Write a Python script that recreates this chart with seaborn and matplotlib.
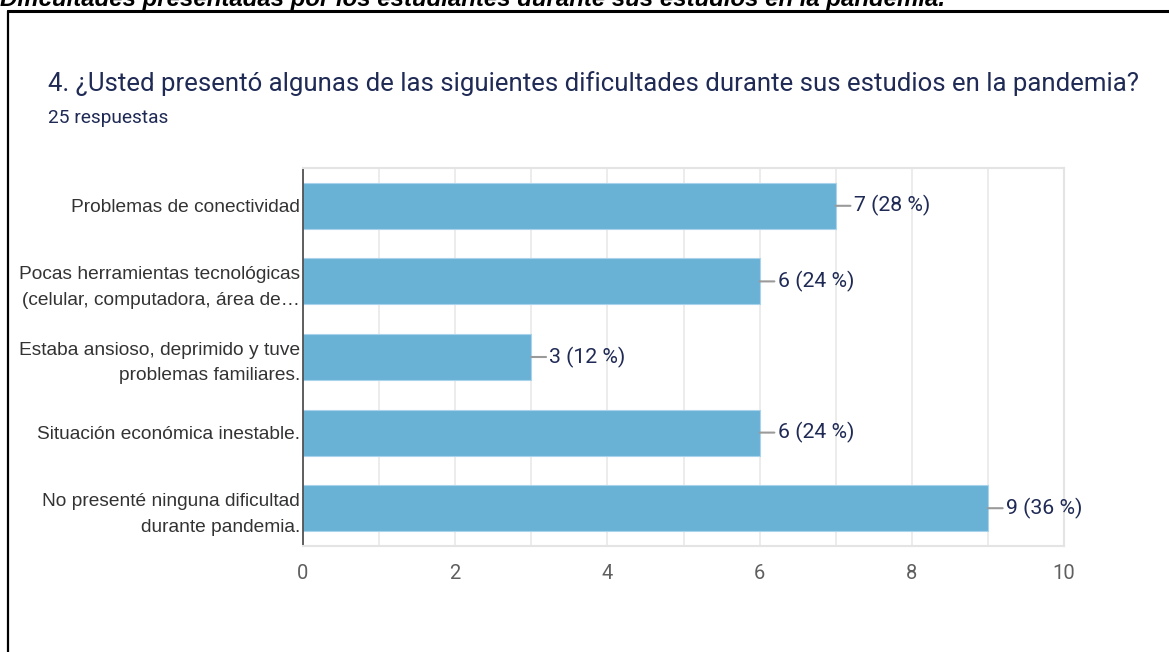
import matplotlib
matplotlib.use("Agg")
import matplotlib.pyplot as plt
import seaborn as sns
import pandas as pd
from matplotlib.lines import Line2D
from matplotlib.ticker import MultipleLocator

# data
categories = [
    "Problemas de conectividad",
    "Pocas herramientas tecnológicas\n(celular, computadora, área de…",
    "Estaba ansioso, deprimido y tuve\nproblemas familiares.",
    "Situación económica inestable.",
    "No presenté ninguna dificultad\ndurante pandemia.",
]
counts = [7, 6, 3, 6, 9]
total = 25

title = "4. ¿Usted presentó algunas de las siguientes dificultades durante sus estudios en la pandemia?"
subtitle = f"{total} respuestas"
caption = "Dificultades presentadas por los estudiantes durante sus estudios en la pandemia."

df = pd.DataFrame({"cat": categories, "n": counts})
df["label"] = [f"{n} ({round(100 * n / total)} %)" for n in counts]

sns.set_theme(style="white")
W, H = 1169, 652
fig = plt.figure(figsize=(W / 100, H / 100), dpi=100)

navy = "#1f2a55"
bar_color = "#6ab1d6"
grid_color = "#e9e9e9"

# axes box in pixel coords: x 303..1064, y 168..546
ax = fig.add_axes([303 / W, 1 - 546 / H, 761 / W, 378 / H])
sns.barplot(data=df, x="n", y="cat", color=bar_color, width=0.61,
            saturation=1, ax=ax, edgecolor="#a9d3ea", linewidth=0.8)

ax.set_xlim(0, 10)
ax.set_ylim(4.5, -0.5)
ax.xaxis.set_major_locator(MultipleLocator(2))
ax.xaxis.set_minor_locator(MultipleLocator(1))
ax.grid(axis="x", which="both", color=grid_color, linewidth=1.2)
ax.set_axisbelow(True)
ax.set_xlabel("")
ax.set_ylabel("")

for side in ["top", "right", "bottom"]:
    ax.spines[side].set_color("#e4e4e4")
    ax.spines[side].set_linewidth(1.5)
ax.spines["left"].set_color("#444444")
ax.spines["left"].set_linewidth(1.2)

ax.tick_params(axis="x", which="both", length=0, pad=13, labelsize=14.5, labelcolor="#5f5f5f")
ax.tick_params(axis="y", length=0, pad=2, labelsize=13.8, labelcolor="#333333")
for t in ax.get_xticklabels():
    t.set_fontfamily(["Roboto", "DejaVu Sans"])
for t in ax.get_yticklabels():
    t.set_fontfamily(["Liberation Sans", "DejaVu Sans"])
    t.set_linespacing(1.65)

for i, row in df.iterrows():
    ax.annotate(row["label"], xy=(row["n"], i), xytext=(13, 0), textcoords="offset points",
                ha="left", va="center", color=navy, fontsize=15.3,
                fontfamily=["Roboto", "DejaVu Sans"],
                arrowprops=dict(arrowstyle="-", color="#9a9a9a", lw=1.5,
                                shrinkA=0, shrinkB=0))

fig.text(48 / W, 1 - 91 / H, title, color=navy, fontsize=18.5,
         fontfamily=["Roboto", "DejaVu Sans"], ha="left", va="baseline")
fig.text(48 / W, 1 - 123 / H, subtitle, color=navy, fontsize=13.8,
         fontfamily=["Roboto", "DejaVu Sans"], ha="left", va="baseline")

# caption clipped at the top edge, as in the reference
fig.text(0, 1 - 6 / H, caption, color="black", fontsize=17.3, fontweight="bold",
         fontstyle="italic", fontfamily=["Liberation Sans", "DejaVu Sans"],
         ha="left", va="baseline")

# frame around the chart (top and left edges only visible)
fig.add_artist(Line2D([8 / W, 1], [1 - 11 / H, 1 - 11 / H], color="black", lw=2.2,
                      transform=fig.transFigure))
fig.add_artist(Line2D([8 / W, 8 / W], [0, 1 - 11 / H], color="black", lw=1.6,
                      transform=fig.transFigure))

fig.savefig("out.png", dpi=100)
